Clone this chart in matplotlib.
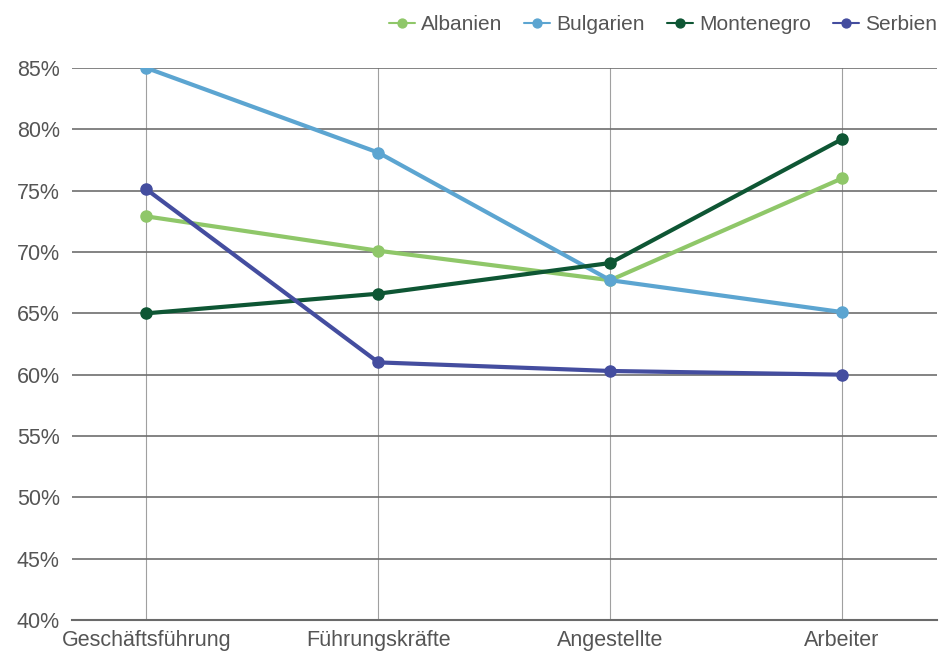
import matplotlib.pyplot as plt
from matplotlib.ticker import FuncFormatter

# categories along x
categories = ['Geschäftsführung', 'Führungskräfte', 'Angestellte', 'Arbeiter']

# values in percent
albanien = [72.9, 70.1, 67.7, 76.0]
bulgarien = [85.0, 78.1, 67.7, 65.1]
montenegro = [65.0, 66.6, 69.1, 79.2]
serbien = [75.1, 61.0, 60.3, 60.0]

series = [
    ('Albanien', albanien, '#8fc769'),
    ('Bulgarien', bulgarien, '#5ca5d1'),
    ('Montenegro', montenegro, '#0e5634'),
    ('Serbien', serbien, '#444d9f'),
]

plt.rcParams['font.family'] = ['Liberation Sans', 'DejaVu Sans']
TEXT_COLOR = '#555555'
FS = 15.5

fig = plt.figure(figsize=(9.39, 6.51), dpi=100)
ax = fig.add_axes([0.077, 0.0476, 0.921, 0.848])

x = list(range(len(categories)))
for name, vals, color in series:
    ax.plot(x, vals, color=color, linewidth=3, marker='o', markersize=8,
            label=name, zorder=3, solid_capstyle='round')

ax.set_xlim(-0.32, 3.41)
ax.set_ylim(40, 85)
ax.set_yticks(range(40, 86, 5))
ax.yaxis.set_major_formatter(FuncFormatter(lambda v, _: f'{v:.0f}%'))
ax.set_xticks(x)
ax.set_xticklabels(categories)

ax.grid(axis='y', color='#6e6e6e', linewidth=1.2, zorder=1)
ax.grid(axis='x', color='#a0a0a0', linewidth=0.8, zorder=1)
for side in ['top', 'right', 'left']:
    ax.spines[side].set_visible(False)
ax.spines['bottom'].set_color('#6a6a6a')
ax.spines['bottom'].set_linewidth(1.5)

ax.tick_params(axis='both', length=0, labelsize=FS, colors=TEXT_COLOR)
ax.tick_params(axis='y', pad=9)
ax.tick_params(axis='x', pad=7)

leg = fig.legend(loc='upper right', bbox_to_anchor=(1.018, 1.005), ncol=4,
                 frameon=False, fontsize=FS - 0.5, handlelength=1.25,
                 columnspacing=1.05, handletextpad=0.3, markerscale=0.8)
for t in leg.get_texts():
    t.set_color(TEXT_COLOR)
for h in leg.legend_handles:
    h.set_linewidth(1.5)

fig.savefig('out.png', dpi=100)
